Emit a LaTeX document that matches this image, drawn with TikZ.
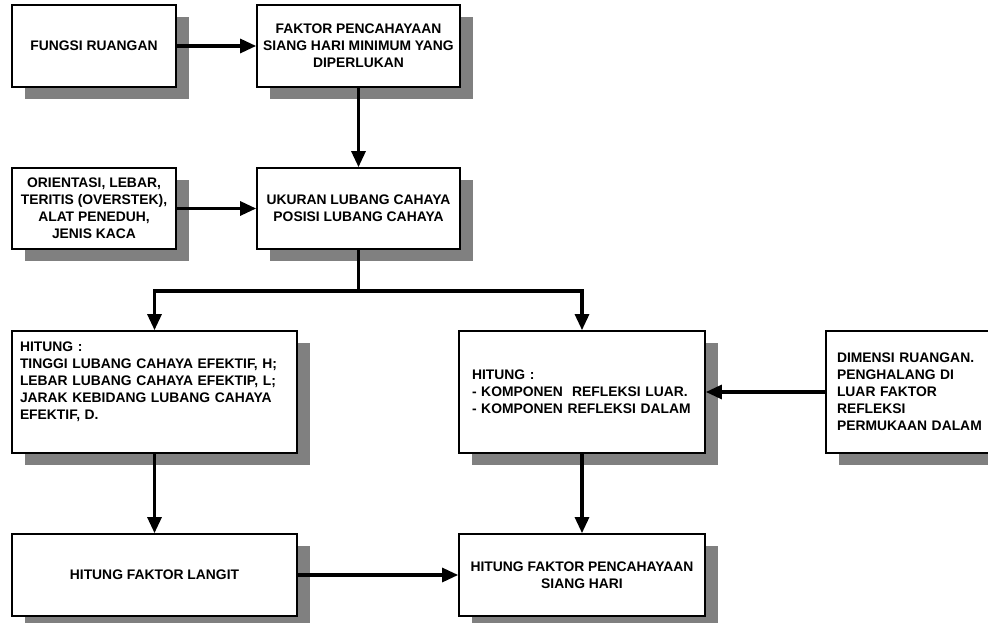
\documentclass[tikz,border=0pt]{standalone}
\usepackage{fontspec}
\setmainfont{Liberation Sans}
\usetikzlibrary{arrows.meta,shadows}

\tikzset{
  kotak/.style={draw, fill=white, line width=1.3pt, inner sep=0pt,
    font=\bfseries\fontsize{10.4pt}{12.75pt}\selectfont, align=center,
    drop shadow={shadow xshift=9.5pt, shadow yshift=-9pt,
      fill=black!50, opacity=1}},
  kiri/.style={align=left, inner xsep=#1, text width=\kotaklebar-2*#1},
  panah/.style={line width=2.3pt, -{Triangle[length=12pt,width=10.5pt]}},
}

\begin{document}
\begin{tikzpicture}[x=0.75pt, y=-0.75pt]
    \useasboundingbox (0,0) rectangle (988,623);

    % Baris atas
    \node[kotak, minimum width=123pt, minimum height=61.5pt] (fungsi)
      at (94,46) {FUNGSI RUANGAN};
    \node[kotak, minimum width=152.25pt, minimum height=61.5pt] (faktor)
      at (358.5,46) {FAKTOR PENCAHAYAAN\\SIANG HARI MINIMUM YANG\\DIPERLUKAN};

    % Baris kedua
    \node[kotak, minimum width=123pt, minimum height=60.75pt] (orientasi)
      at (94,208.5) {ORIENTASI, LEBAR,\\TERITIS (OVERSTEK),\\ALAT PENEDUH,\\JENIS KACA};
    \node[kotak, minimum width=152.25pt, minimum height=60.75pt] (ukuran)
      at (358.5,208.5) {UKURAN LUBANG CAHAYA\\POSISI LUBANG CAHAYA};

    % Baris ketiga
    \def\kotaklebar{213.75pt}
    \node[kotak, kiri=6pt, minimum height=91.5pt] (hitungA) at (154.5,392)
      {HITUNG :\\TINGGI LUBANG CAHAYA EFEKTIF, H;\\LEBAR LUBANG CAHAYA EFEKTIP, L;\\JARAK KEBIDANG LUBANG CAHAYA\\EFEKTIF, D.\\ \strut};
    \def\kotaklebar{184.5pt}
    \node[kotak, kiri=9.75pt, minimum height=91.5pt] (hitungB) at (582,392)
      {HITUNG :\\- KOMPONEN \ REFLEKSI LUAR.\\- KOMPONEN REFLEKSI DALAM};
    \def\kotaklebar{150pt}
    \node[kotak, kiri=8.25pt, minimum height=91.5pt] (dimensi) at (926,392)
      {DIMENSI RUANGAN.\\PENGHALANG DI\\LUAR FAKTOR\\REFLEKSI\\PERMUKAAN DALAM};

    % Baris bawah
    \node[kotak, minimum width=213.75pt, minimum height=61.5pt] (langit)
      at (154.5,575) {HITUNG FAKTOR LANGIT};
    \node[kotak, minimum width=184.5pt, minimum height=61.5pt] (hasil)
      at (582,575) {HITUNG FAKTOR PENCAHAYAAN\\SIANG HARI};

    % Panah
    \draw[panah] (fungsi) -- (faktor);
    \draw[panah] (faktor) -- (ukuran);
    \draw[panah] (orientasi) -- (ukuran);
    \coordinate (cabang) at (358.5,291);
    \draw[line width=2.3pt] (ukuran) -- (cabang);
    \draw[panah] (cabang) -| (hitungA.north);
    \draw[panah] (cabang) -| (hitungB.north);
    \draw[panah] (dimensi) -- (hitungB);
    \draw[panah] (hitungA) -- (langit);
    \draw[panah] (hitungB) -- (hasil);
    \draw[panah] (langit) -- (hasil);
\end{tikzpicture}
\end{document}
